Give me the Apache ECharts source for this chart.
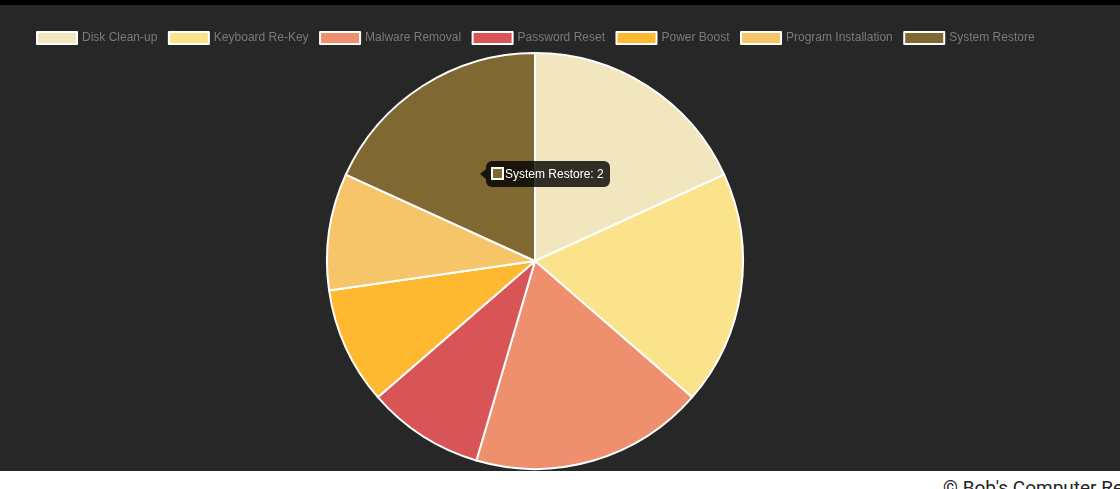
<!DOCTYPE html>
<html>
<head>
<meta charset="utf-8">
<script src="https://cdn.jsdelivr.net/npm/echarts@6/dist/echarts.min.js"></script>
<style>
html,body{margin:0;padding:0;background:#fff;width:1120px;height:489px;overflow:hidden;}
#topbar{position:absolute;left:0;top:0;width:1120px;height:5px;background:#000;}
#chart{position:absolute;left:0;top:5px;width:1120px;height:466px;background:#272727;}
#footer{position:absolute;left:943px;top:478px;font-family:Roboto,sans-serif;font-size:19px;line-height:20px;color:#222;white-space:nowrap;}
</style>
</head>
<body>
<div id="topbar"></div>
<div id="chart"></div>
<div id="footer">© Bob's Computer Repair</div>
<script>
const categories = ["Disk Clean-up","Keyboard Re-Key","Malware Removal","Password Reset","Power Boost","Program Installation","System Restore"];
const values = [2,2,2,1,1,1,2];
const colors = ["#F2E6BE","#FBE38B","#EE8F6D","#D95457","#FFB931","#F6C569","#806832"];

const chart = echarts.init(document.getElementById('chart'), null, {renderer:'canvas'});
const data = categories.map((c,i)=>({name:c,value:values[i],itemStyle:{color:colors[i]}}));
chart.setOption({
  backgroundColor:'#272727',
  animation:false,
  legend:{
    left:31, top:21,
    itemWidth:40, itemHeight:12, itemGap:10.5,
    icon:'rect',
    itemStyle:{borderColor:'#fff',borderWidth:2},
    textStyle:{color:'#7a7a7a',fontSize:12,fontFamily:'"Liberation Sans",Arial,sans-serif'},
    data:categories
  },
  tooltip:{
    trigger:'item',
    alwaysShowContent:true,
    backgroundColor:'rgba(0,0,0,0.8)',
    borderWidth:0,
    padding:[5,6,5,5],
    extraCssText:'border-radius:6px;box-shadow:none;overflow:visible;',
    position:function(){return [486,156];},
    formatter:function(p){
      return '<div style="position:relative;line-height:16px;font-family:\'Liberation Sans\',Arial,sans-serif;font-size:12px;color:#fff;white-space:nowrap;">'+
        '<span style="position:absolute;left:-11px;top:3px;width:0;height:0;border-top:5px solid transparent;border-bottom:5px solid transparent;border-right:6px solid rgba(0,0,0,0.8);"></span>'+
        '<span style="display:inline-block;vertical-align:-2px;width:9px;height:9px;border:2px solid #fff;background:'+p.color+';margin-right:1px;"></span>'+
        p.name+': '+p.value+'</div>';
    }
  },
  series:[{
    type:'pie',
    center:[535,256],
    radius:[0,208],
    startAngle:90,
    clockwise:true,
    label:{show:false},
    labelLine:{show:false},
    emphasis:{scale:false},
    itemStyle:{borderColor:'#fff',borderWidth:2},
    data:data
  }]
});
chart.dispatchAction({type:'showTip',seriesIndex:0,dataIndex:6});
</script>
</body>
</html>
